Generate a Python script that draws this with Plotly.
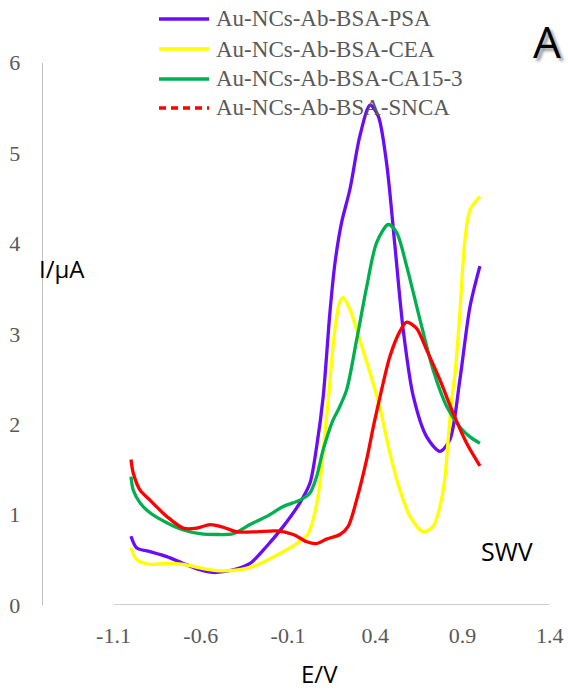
import plotly.graph_objects as go

# ---------------- data ----------------
psa_E = [-1.0, -0.967, -0.891, -0.795, -0.700, -0.605, -0.528, -0.414, -0.318, -0.222,
         -0.127, -0.032, 0.026, 0.064, 0.102, 0.140, 0.169, 0.207, 0.255, 0.312,
         0.370, 0.417, 0.465, 0.513, 0.560, 0.618, 0.695, 0.771, 0.828, 0.885,
         0.943, 1.0]
psa_I = [0.76, 0.63, 0.59, 0.535, 0.46, 0.39, 0.36, 0.39, 0.46, 0.65,
         0.87, 1.13, 1.35, 1.75, 2.31, 3.23, 3.78, 4.23, 4.60, 5.19,
         5.53, 5.41, 4.89, 3.97, 3.05, 2.31, 1.86, 1.70, 1.83, 2.49,
         3.30, 3.75]

cea_E = [-1.0, -0.967, -0.891, -0.795, -0.700, -0.605, -0.509, -0.375, -0.280, -0.165,
         -0.050, 0.016, 0.054, 0.083, 0.112, 0.131, 0.169, 0.198, 0.217, 0.255,
         0.312, 0.370, 0.427, 0.484, 0.542, 0.599, 0.675, 0.732, 0.771, 0.799,
         0.818, 0.838, 0.857, 0.885, 0.914, 0.943, 1.0]
cea_I = [0.63, 0.50, 0.45, 0.46, 0.45, 0.41, 0.38, 0.39, 0.44, 0.55,
         0.68, 0.79, 1.02, 1.35, 1.90, 2.27, 3.05, 3.36, 3.40, 3.27,
         2.93, 2.57, 2.18, 1.68, 1.27, 0.98, 0.81, 0.87, 1.09, 1.40,
         1.83, 2.27, 2.55, 3.23, 4.04, 4.37, 4.52]

ca153_E = [-1.0, -0.987, -0.948, -0.891, -0.795, -0.700, -0.605, -0.509, -0.414, -0.318,
           -0.222, -0.127, -0.032, 0.026, 0.064, 0.102, 0.159, 0.188, 0.236, 0.293,
           0.351, 0.408, 0.475, 0.523, 0.580, 0.656, 0.732, 0.809, 0.885, 0.943,
           1.0]
ca153_I = [1.42, 1.27, 1.13, 1.02, 0.91, 0.83, 0.79, 0.78, 0.79, 0.89,
           0.98, 1.09, 1.16, 1.24, 1.42, 1.72, 2.05, 2.16, 2.38, 2.93,
           3.52, 4.01, 4.21, 4.12, 3.75, 3.16, 2.60, 2.20, 1.97, 1.86,
           1.79]

snca_E = [-1.0, -0.987, -0.948, -0.891, -0.795, -0.700, -0.624, -0.547, -0.471, -0.394,
          -0.280, -0.165, -0.070, 0.007, 0.064, 0.121, 0.198, 0.245, 0.293, 0.351,
          0.389, 0.427, 0.484, 0.542, 0.580, 0.637, 0.695, 0.771, 0.847, 0.924,
          1.0]
snca_I = [1.61, 1.46, 1.27, 1.16, 0.98, 0.85, 0.85, 0.89, 0.86, 0.81,
          0.81, 0.82, 0.78, 0.70, 0.68, 0.73, 0.78, 0.87, 1.16, 1.61,
          1.97, 2.30, 2.75, 3.03, 3.13, 3.06, 2.82, 2.49, 2.12, 1.79,
          1.54]

series_names = ["Au-NCs-Ab-BSA-PSA", "Au-NCs-Ab-BSA-CEA",
                "Au-NCs-Ab-BSA-CA15-3", "Au-NCs-Ab-BSA-SNCA"]
x_ticks = [-1.1, -0.6, -0.1, 0.4, 0.9, 1.4]
x_tick_text = ["-1.1", "-0.6", "-0.1", "0.4", "0.9", "1.4"]
y_ticks = [0, 1, 2, 3, 4, 5, 6]

# ---------------- styles ----------------
colors = ["#6A0CFA", "#FFFF00", "#00B050", "#FF0000"]
legend_dash = ["solid", "solid", "solid", "7px,5px"]
LW = 3.3
W, H = 568, 692
serif = "Liberation Serif, Times New Roman, serif"
sans = "Open Sans, Noto Sans, sans-serif"

fig = go.Figure()
data = [(psa_E, psa_I), (cea_E, cea_I), (ca153_E, ca153_I), (snca_E, snca_I)]
for i, (xs, ys) in enumerate(data):
    fig.add_trace(go.Scatter(
        x=xs, y=ys, mode="lines", name=series_names[i],
        line=dict(color=colors[i], width=LW, shape="spline", smoothing=0.8),
        hoverinfo="skip"))

# x axis line (starts at -1.1, not at the y axis)
fig.add_shape(type="line", xref="x", yref="y", x0=-1.1, x1=1.4, y0=0, y1=0,
              line=dict(color="#BFBFBF", width=1.3), layer="below")

# legend (key line + label per series), rows spaced as in the reference
leg_x0, leg_x1, leg_tx = 159, 209, 214
leg_rows = [19, 49, 79, 108]
for i, name in enumerate(series_names):
    yp = (H - leg_rows[i]) / H
    fig.add_shape(type="line", xref="paper", yref="paper",
                  x0=leg_x0 / W, x1=leg_x1 / W, y0=yp, y1=yp,
                  line=dict(color=colors[i], width=3.6, dash=legend_dash[i]))
    fig.add_annotation(text=name, xref="paper", yref="paper", x=leg_tx / W, y=yp,
                       xanchor="left", yanchor="middle", showarrow=False,
                       font=dict(family=serif, size=23, color="#595959"))

tickfont = dict(family=serif, size=22, color="#595959")

fig.update_layout(
    width=W, height=H, autosize=False,
    margin=dict(l=0, r=0, t=0, b=0, autoexpand=False),
    paper_bgcolor="white", plot_bgcolor="white",
    showlegend=False,
    xaxis=dict(domain=[42.7 / W, 549.7 / W], range=[-1.506, 1.4], automargin=False,
               showgrid=False, zeroline=False, showline=False,
               tickvals=x_ticks, ticktext=x_tick_text, tickfont=tickfont,
               ticks="outside", ticklen=11, tickcolor="rgba(0,0,0,0)"),
    yaxis=dict(domain=[(H - 605) / H, (H - 62.7) / H], range=[0, 6], automargin=False,
               showgrid=False, zeroline=False, showline=True,
               linecolor="#BFBFBF", linewidth=1.3,
               tickvals=y_ticks, tickfont=tickfont,
               ticks="outside", ticklen=17, tickcolor="rgba(0,0,0,0)"),
)

def label(text, cx, cy, size, color="black", shadow=None):
    font = dict(family=sans, size=size, color=color)
    if shadow:
        font["shadow"] = shadow
    fig.add_annotation(text=text, xref="paper", yref="paper", x=cx / W, y=(H - cy) / H,
                       xanchor="center", yanchor="middle", showarrow=False, font=font)

label("I/μA", 62, 268, 24)
label("E/V", 319, 673, 24)
label("SWV", 507, 551, 25)
label("A", 547, 41, 44, shadow="3px 3px 3px rgba(0,0,0,0.4)")

fig.write_html("out.html")
